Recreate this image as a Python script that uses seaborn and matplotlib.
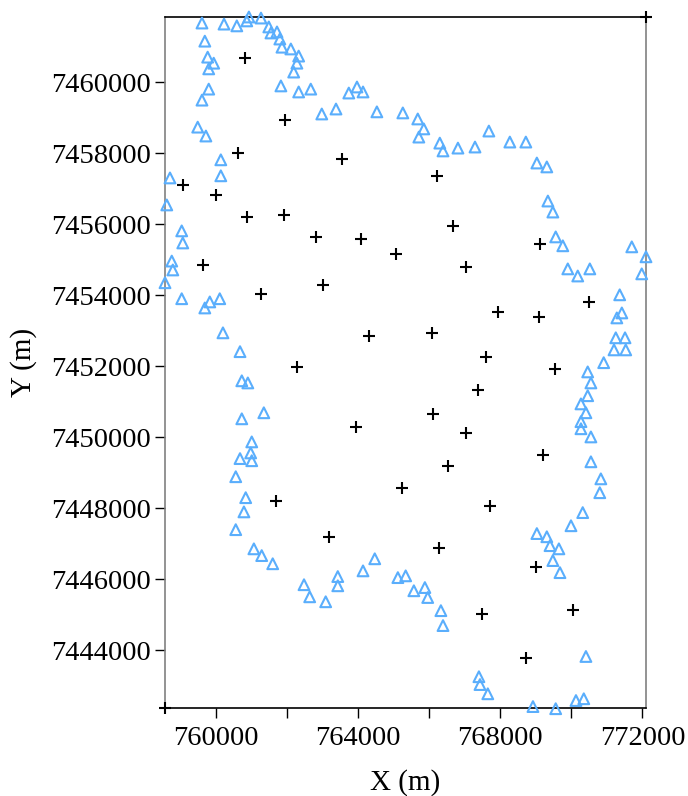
import numpy as np
import pandas as pd
import seaborn as sns
import matplotlib.pyplot as plt

# sample points (crosses) - includes the two extent corners
grid_x = [758570, 772100, 760820, 761940, 760620, 763540, 759070, 760000, 766220,
          760870, 761910, 762810, 764080, 765060, 766670, 769110, 759630, 767030,
          761270, 763010, 770490, 767930, 769090, 762280, 764300, 766080, 767600,
          769540, 767370, 763940, 766100, 767030, 769200, 766530, 765230, 761690,
          767710, 763180, 766270, 769000, 767480, 770040, 768720]
grid_y = [7442380, 7461830, 7460680, 7458930, 7458000, 7457830, 7457100, 7456820, 7457360,
          7456200, 7456260, 7455640, 7455580, 7455160, 7455950, 7455440, 7454850, 7454800,
          7454040, 7454290, 7453810, 7453530, 7453390, 7451980, 7452860, 7452940, 7452260,
          7451930, 7451340, 7450300, 7450660, 7450130, 7449510, 7449200, 7448580, 7448210,
          7448070, 7447200, 7446890, 7446360, 7445030, 7445150, 7443800]

# boundary points (triangles)
bnd_x = [759610, 760230, 760590, 760930, 760870, 761270, 761490, 761550, 761720, 761800,
         761860, 762110, 762330, 762280, 762190, 759690, 759770, 759940, 759800, 759800,
         759610, 761830, 762330, 762670, 762980, 763380, 759490, 759720, 760140, 760140,
         758710, 763740, 763970, 764140, 764530, 765260, 765680, 765850, 765710, 766300,
         766390, 766810, 767290, 767680, 768270, 768720, 769030, 769310, 769340, 769480,
         769560, 769760, 769900, 770180, 770520, 771700, 772100, 771980, 771360, 771420,
         771280, 771250, 771510, 771200, 771530, 770910, 770460, 770550, 770460, 770270,
         770410, 770270, 770270, 770550, 770550, 770830, 770800, 770320, 769990, 769030,
         769310, 769400, 769650, 769480, 769680,
         758620, 759040, 759070, 758760, 758790, 758570, 759040, 759690, 759830, 760110,
         760200, 760680, 760730, 760900, 761350, 760730, 761010, 760980, 760680, 761010,
         760560, 760840, 760790, 760560, 761070, 761290, 761600,
         762480, 762640, 763090, 763430, 763430, 764140, 764470, 765120, 765340, 765570,
         765880, 765960, 766330, 766390, 770410, 767400, 767430, 767650, 768920, 769560,
         770130, 770350]
bnd_y = [7461660, 7461630, 7461580, 7461830, 7461720, 7461800, 7461550, 7461380, 7461410, 7461210,
         7460980, 7460930, 7460730, 7460530, 7460280, 7461150, 7460700, 7460530, 7460370, 7459800,
         7459490, 7459890, 7459720, 7459800, 7459100, 7459240, 7458730, 7458480, 7457810, 7457360,
         7457300, 7459690, 7459860, 7459720, 7459160, 7459130, 7458960, 7458680, 7458450, 7458280,
         7458060, 7458140, 7458170, 7458620, 7458310, 7458310, 7457720, 7457610, 7456650, 7456340,
         7455640, 7455390, 7454740, 7454540, 7454740, 7455360, 7455080, 7454600, 7454010, 7453500,
         7453360, 7452800, 7452800, 7452460, 7452460, 7452100, 7451840, 7451530, 7451170, 7450940,
         7450690, 7450440, 7450240, 7450010, 7449310, 7448830, 7448440, 7447880, 7447510, 7447290,
         7447200, 7446950, 7446860, 7446530, 7446190,
         7456540, 7455810, 7455470, 7454960, 7454710, 7454350, 7453900, 7453640, 7453810, 7453900,
         7452940, 7452410, 7451590, 7451530, 7450690, 7450520, 7449870, 7449560, 7449400, 7449340,
         7448890, 7448300, 7447900, 7447400, 7446860, 7446670, 7446440,
         7445850, 7445510, 7445370, 7446080, 7445820, 7446240, 7446580, 7446050, 7446100, 7445680,
         7445770, 7445490, 7445120, 7444700, 7443830, 7443260, 7443040, 7442780, 7442420, 7442360,
         7442590, 7442640]

x_ticks = [760000, 762000, 764000, 766000, 768000, 770000, 772000]
x_tick_labels = ['760000', '', '764000', '', '768000', '', '772000']
y_ticks = [7444000, 7446000, 7448000, 7450000, 7452000, 7454000, 7456000, 7458000, 7460000]

sns.set_theme(style='white')
plt.rcParams['font.family'] = ['Liberation Serif', 'DejaVu Serif']
plt.rcParams['text.color'] = 'black'
plt.rcParams['axes.labelcolor'] = 'black'
plt.rcParams['xtick.color'] = 'black'
plt.rcParams['ytick.color'] = 'black'

grid = pd.DataFrame({'x': grid_x, 'y': grid_y})
bnd = pd.DataFrame({'x': bnd_x, 'y': bnd_y})

fig = plt.figure(figsize=(6.88, 7.96), dpi=100)
ax = fig.add_axes([165 / 688, 88 / 796, 481 / 688, 691 / 796])

sns.scatterplot(data=bnd, x='x', y='y', marker='^', s=60, facecolors='none',
                edgecolor='#5aaefc', linewidth=1.5, ax=ax, clip_on=False, zorder=3)
sns.scatterplot(data=grid, x='x', y='y', marker='+', s=80, color='black',
                linewidth=1.5, ax=ax, clip_on=False, zorder=4)

ax.set_xlim(min(grid_x), max(grid_x))
ax.set_ylim(min(grid_y), max(grid_y))

ax.set_xticks(x_ticks)
ax.set_xticklabels(x_tick_labels)
ax.set_yticks(y_ticks)
ax.set_yticklabels([str(v) for v in y_ticks])

ax.tick_params(axis='both', which='major', direction='out', length=7, width=1,
               color='black', labelcolor='black', labelsize=20.5, pad=3,
               bottom=True, left=True)
ax.tick_params(axis='x', pad=6)

for side in ['left', 'right']:
    ax.spines[side].set_color('#808080')
for side in ['top', 'bottom']:
    ax.spines[side].set_color('black')
for side in ax.spines:
    ax.spines[side].set_linewidth(1.2)
    ax.spines[side].set_visible(True)

ax.set_xlabel('X (m)', fontsize=21, labelpad=13, color='black')
ax.set_ylabel('Y (m)', fontsize=21, labelpad=10, color='black')

fig.savefig('out.png', dpi=100)
